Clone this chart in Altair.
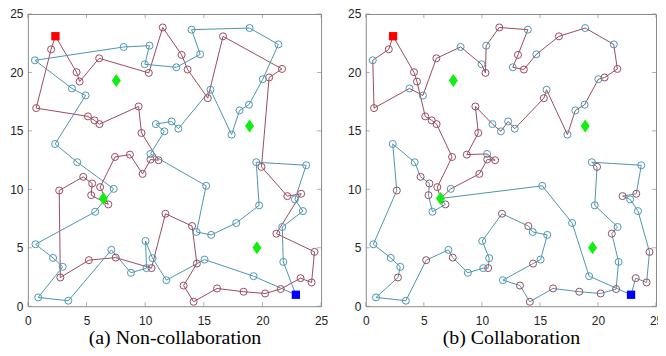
import altair as alt
import pandas as pd

# ---------------- data ----------------
# targets originally served by the red UAV (index 0 = red depot)
red_x = [2.35, 4.15, 4.41, 6.08, 10.31, 11.5, 13.11, 13.62, 15.34, 16.64,
         21.67, 20.57, 19.92, 22.12, 23.3, 21.19, 24.44, 24.19, 23.25, 21.56,
         20.23, 18.39, 16.13, 14.13, 13.28, 14.41, 14.0, 11.73, 10.54, 7.49,
         5.2, 2.77, 2.67, 4.72, 5.48, 5.4, 6.86, 6.16, 7.43, 8.7,
         9.78, 10.46, 11.14, 9.69, 9.44, 6.1, 5.68, 5.12, 0.71, 1.98]
red_y = [23.1, 20.02, 19.22, 21.21, 19.96, 23.85, 21.5, 20.25, 17.8, 23.09,
         20.3, 19.57, 11.92, 9.42, 9.62, 6.21, 4.65, 2.03, 2.4, 1.47,
         1.09, 1.24, 1.52, 0.38, 1.77, 3.65, 6.86, 7.91, 3.26, 4.16,
         3.94, 2.46, 9.9, 11.07, 10.5, 9.5, 8.71, 10.19, 12.77, 12.97,
         11.32, 12.55, 12.49, 14.82, 17.09, 15.58, 15.9, 16.24, 16.95, 21.98]

# targets originally served by the blue UAV (index 0 = blue depot)
blue_x = [22.85, 21.78, 21.69, 23.45, 22.77, 23.73, 19.47, 19.72, 17.77, 15.63,
          14.38, 15.2, 10.45, 11.64, 10.91, 12.26, 12.83, 15.57, 17.37, 18.05,
          18.85, 20.03, 21.36, 18.9, 13.96, 14.69, 12.66, 9.97, 10.37, 8.17,
          0.6, 3.76, 4.92, 2.32, 4.21, 7.32, 5.74, 0.65, 2.15, 2.97,
          0.88, 3.45, 7.12, 8.79, 10.12, 10.03, 10.63, 11.81, 15.06, 19.24]
blue_y = [0.98, 3.79, 6.78, 8.14, 9.14, 12.06, 12.32, 8.63, 7.12, 6.1,
          6.35, 10.3, 13.03, 14.96, 15.58, 15.81, 15.19, 18.52, 14.68, 16.75,
          17.24, 19.42, 22.4, 23.8, 23.66, 21.55, 20.44, 20.7, 22.29, 22.18,
          21.04, 18.63, 18.03, 13.88, 12.32, 10.04, 8.08, 5.3, 4.13, 3.37,
          0.75, 0.47, 4.82, 2.86, 3.26, 5.58, 4.11, 2.23, 3.99, 2.57]

# green diamond stations
station_x = [7.54, 18.9, 19.53, 6.44]
station_y = [19.31, 15.41, 5.01, 9.22]

# visiting orders
route_a_red = ["R%d" % i for i in range(len(red_x))] + ["R0"]
route_a_blue = ["B%d" % i for i in range(len(blue_x))] + ["B0"]

route_b_red = ["R0", "R49", "B30", "R48", "B31", "B32", "R3", "B29", "B27", "R4",
               "B28", "R5", "B24", "R6", "B26", "R7", "B25", "R9", "B23", "B22",
               "R10", "R11", "B21", "B20", "B19", "B18", "B17", "R8", "B16", "B15",
               "B13", "B14", "R44", "R43", "R39", "B12", "R42", "R41", "R40", "B35",
               "S3", "R37", "R38", "R45", "R46", "R47", "R2", "R1", "R0"]
route_b_blue = ["B0", "R18", "R17", "R16", "B3", "B4", "R13", "R14", "B5", "B6",
                "R12", "B7", "B2", "R15", "B1", "R19", "R20", "R21", "R22", "R23",
                "R24", "B47", "R25", "B48", "B9", "B10", "R26", "R27", "B45", "B46",
                "R28", "B44", "B43", "R29", "B42", "R30", "B41", "B40", "R31", "B39",
                "B38", "B37", "R32", "B33", "B34", "R33", "R34", "R35", "B36", "R36",
                "S3", "B11", "B8", "B49", "B0"]

tick_vals = [0, 5, 10, 15, 20, 25]

# ---------------- styling ----------------
RED = "#9B4A5E"
BLUE = "#4C95B0"
FRAME = "#8a8a8a"
H = 294

coords = {}
for i in range(len(red_x)):
    coords["R%d" % i] = (red_x[i], red_y[i])
for i in range(len(blue_x)):
    coords["B%d" % i] = (blue_x[i], blue_y[i])
for i in range(len(station_x)):
    coords["S%d" % i] = (station_x[i], station_y[i])

xs = alt.Scale(domain=[0, 25], nice=False, zero=False)
ys = alt.Scale(domain=[0, 25], nice=False, zero=False)
col_scale = alt.Scale(domain=["red", "blue"], range=[RED, BLUE])


def xaxis(title):
    return alt.Axis(values=tick_vals, grid=False, domain=False, ticks=False, tickSize=0,
                    labelPadding=9, labelFont="Liberation Sans", labelFontSize=12,
                    labelColor="#222222", labelFlush=False, title=title,
                    titleFont="Liberation Serif", titleFontSize=20,
                    titleFontWeight="normal", titleColor="#000000", titlePadding=2)


yaxis = alt.Axis(values=tick_vals, grid=False, domain=False, ticks=False, tickSize=0,
                 labelPadding=5, labelFont="Liberation Sans", labelFontSize=12,
                 labelColor="#222222", labelFlush=False, title=None)


def panel(routes, title, W):
    rows = []
    for uav, route in routes:
        for k, name in enumerate(route):
            x, y = coords[name]
            rows.append({"uav": uav, "k": k, "x": x, "y": y})
    line_df = pd.DataFrame(rows)

    pts = []
    for i in range(1, len(red_x)):
        pts.append({"x": red_x[i], "y": red_y[i], "uav": "red"})
    for i in range(1, len(blue_x)):
        pts.append({"x": blue_x[i], "y": blue_y[i], "uav": "blue"})
    pt_df = pd.DataFrame(pts)

    depot_df = pd.DataFrame({"x": [red_x[0], blue_x[0]], "y": [red_y[0], blue_y[0]],
                             "uav": ["red", "blue"]})
    st_df = pd.DataFrame({"x": station_x, "y": station_y})
    tk_df = pd.DataFrame({"v": tick_vals})

    lines = alt.Chart(line_df).mark_line(strokeWidth=1).encode(
        x=alt.X("x:Q", scale=xs, axis=xaxis(title)),
        y=alt.Y("y:Q", scale=ys, axis=yaxis),
        color=alt.Color("uav:N", scale=col_scale, legend=None),
        detail="uav:N",
        order="k:Q",
    )
    circles = alt.Chart(pt_df).mark_point(shape="circle", filled=False, size=50,
                                          strokeWidth=1, opacity=1).encode(
        x=alt.X("x:Q", scale=xs), y=alt.Y("y:Q", scale=ys),
        color=alt.Color("uav:N", scale=col_scale, legend=None),
    )
    diamonds = alt.Chart(st_df).mark_point(
        shape="M0,-1L0.7,0L0,1L-0.7,0Z", filled=True, size=170, opacity=1,
        color="#12EE12", strokeWidth=0).encode(
        x=alt.X("x:Q", scale=xs), y=alt.Y("y:Q", scale=ys))
    depots = alt.Chart(depot_df).mark_square(size=70, opacity=1).encode(
        x=alt.X("x:Q", scale=xs), y=alt.Y("y:Q", scale=ys),
        color=alt.Color("uav:N", scale=alt.Scale(domain=["red", "blue"],
                                                 range=["#FF0000", "#0000FF"]),
                        legend=None),
    )
    tb = alt.Chart(tk_df).mark_tick(orient="vertical", size=4, thickness=1,
                                   color=FRAME).encode(
        x=alt.X("v:Q", scale=xs), y=alt.value(H - 2))
    tt = alt.Chart(tk_df).mark_tick(orient="vertical", size=4, thickness=1,
                                   color=FRAME).encode(
        x=alt.X("v:Q", scale=xs), y=alt.value(2))
    tl = alt.Chart(tk_df).mark_tick(orient="horizontal", size=4, thickness=1,
                                   color=FRAME).encode(
        y=alt.Y("v:Q", scale=ys), x=alt.value(2))
    tr = alt.Chart(tk_df).mark_tick(orient="horizontal", size=4, thickness=1,
                                   color=FRAME).encode(
        y=alt.Y("v:Q", scale=ys), x=alt.value(W - 2))

    return alt.layer(lines, circles, diamonds, depots, tb, tt, tl, tr).resolve_scale(
        color="independent").properties(width=W, height=H)


pa = panel([("red", route_a_red), ("blue", route_a_blue)], "(a) Non-collaboration", 295)
pb = panel([("red", route_b_red), ("blue", route_b_blue)], "(b) Collaboration", 292)

chart = alt.hconcat(pa, pb, spacing=18).properties(
    padding={"left": 1, "top": -2, "right": -6, "bottom": -1}
).configure_view(stroke=FRAME, strokeWidth=1)

chart.save("out.html", embed_options={"renderer": "svg", "actions": False})
